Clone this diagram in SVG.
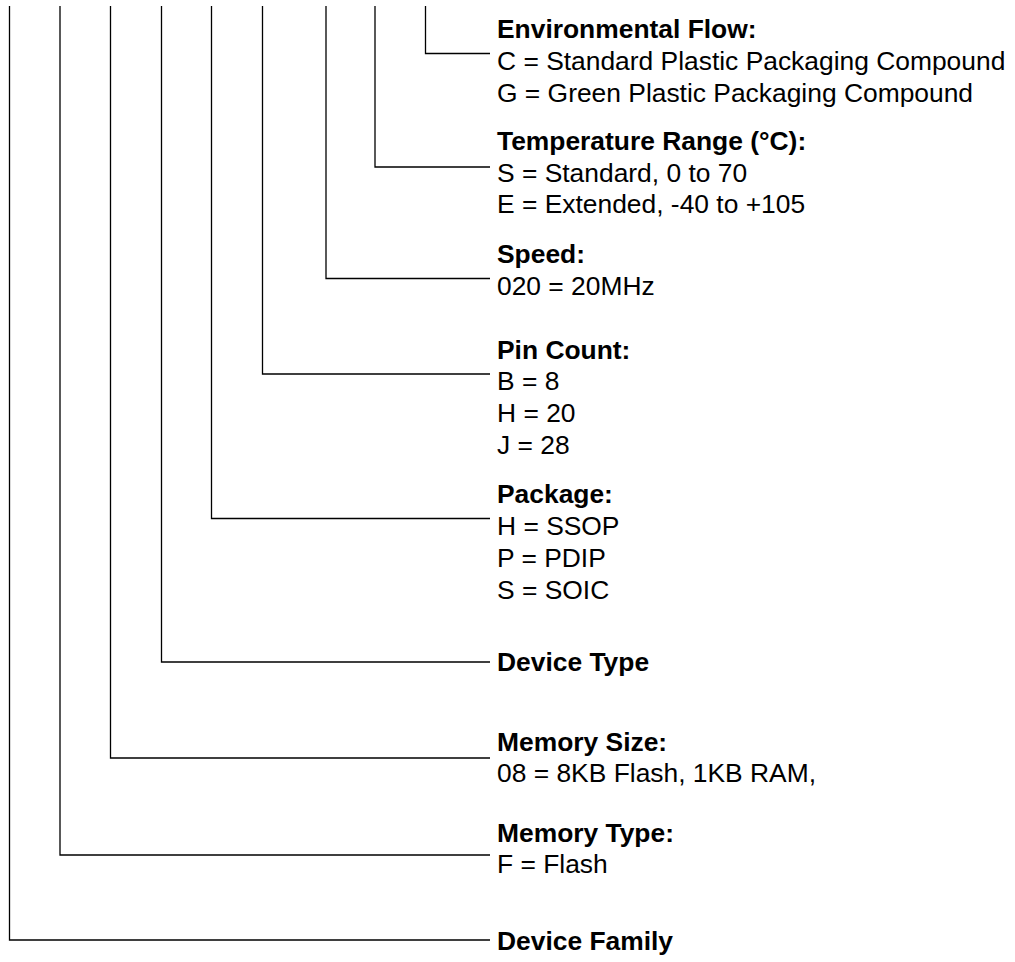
<svg xmlns="http://www.w3.org/2000/svg" width="1015" height="962" viewBox="0 0 1015 962">
<style>
.c{fill:none;stroke:#000;stroke-width:1.3}
.t{font-family:"Liberation Sans",Arial,sans-serif;font-size:26.4px;fill:#000}
.b{font-weight:bold}
</style>
<rect width="1015" height="962" fill="#fff"/>
<g id="connectors">
<polyline class="c" points="425.5,6 425.5,53.5 490,53.5"/>
<polyline class="c" points="375,6 375,167 490,167"/>
<polyline class="c" points="326,6 326,278.5 490,278.5"/>
<polyline class="c" points="262.5,6 262.5,374 490,374"/>
<polyline class="c" points="211.5,6 211.5,518.5 490,518.5"/>
<polyline class="c" points="161.5,6 161.5,662 490,662"/>
<polyline class="c" points="110.5,6 110.5,758 490,758"/>
<polyline class="c" points="60,6 60,855 490,855"/>
<polyline class="c" points="9.5,6 9.5,940 490,940"/>
</g>
<g id="env">
<text class="t b" x="497" y="37.5">Environmental Flow:</text>
<text class="t" x="497" y="69.5">C = Standard Plastic Packaging Compound</text>
<text class="t" x="497" y="101.5">G = Green Plastic Packaging Compound</text>
</g>
<g id="temp">
<text class="t b" x="497" y="150">Temperature Range (°C):</text>
<text class="t" x="497" y="181.5">S = Standard, 0 to 70</text>
<text class="t" x="497" y="213">E = Extended, -40 to +105</text>
</g>
<g id="speed">
<text class="t b" x="497" y="263">Speed:</text>
<text class="t" x="497" y="294.5">020 = 20MHz</text>
</g>
<g id="pin">
<text class="t b" x="497" y="358.5">Pin Count:</text>
<text class="t" x="497" y="390">B = 8</text>
<text class="t" x="497" y="422">H = 20</text>
<text class="t" x="497" y="454">J = 28</text>
</g>
<g id="package">
<text class="t b" x="497" y="503">Package:</text>
<text class="t" x="497" y="534.5">H = SSOP</text>
<text class="t" x="497" y="566.5">P = PDIP</text>
<text class="t" x="497" y="598.5">S = SOIC</text>
</g>
<g id="devtype">
<text class="t b" x="497" y="671">Device Type</text>
</g>
<g id="memsize">
<text class="t b" x="497" y="751">Memory Size:</text>
<text class="t" x="497" y="782">08 = 8KB Flash, 1KB RAM,</text>
</g>
<g id="memtype">
<text class="t b" x="497" y="842">Memory Type:</text>
<text class="t" x="497" y="873">F = Flash</text>
</g>
<g id="family">
<text class="t b" x="497" y="950">Device Family</text>
</g>
</svg>
